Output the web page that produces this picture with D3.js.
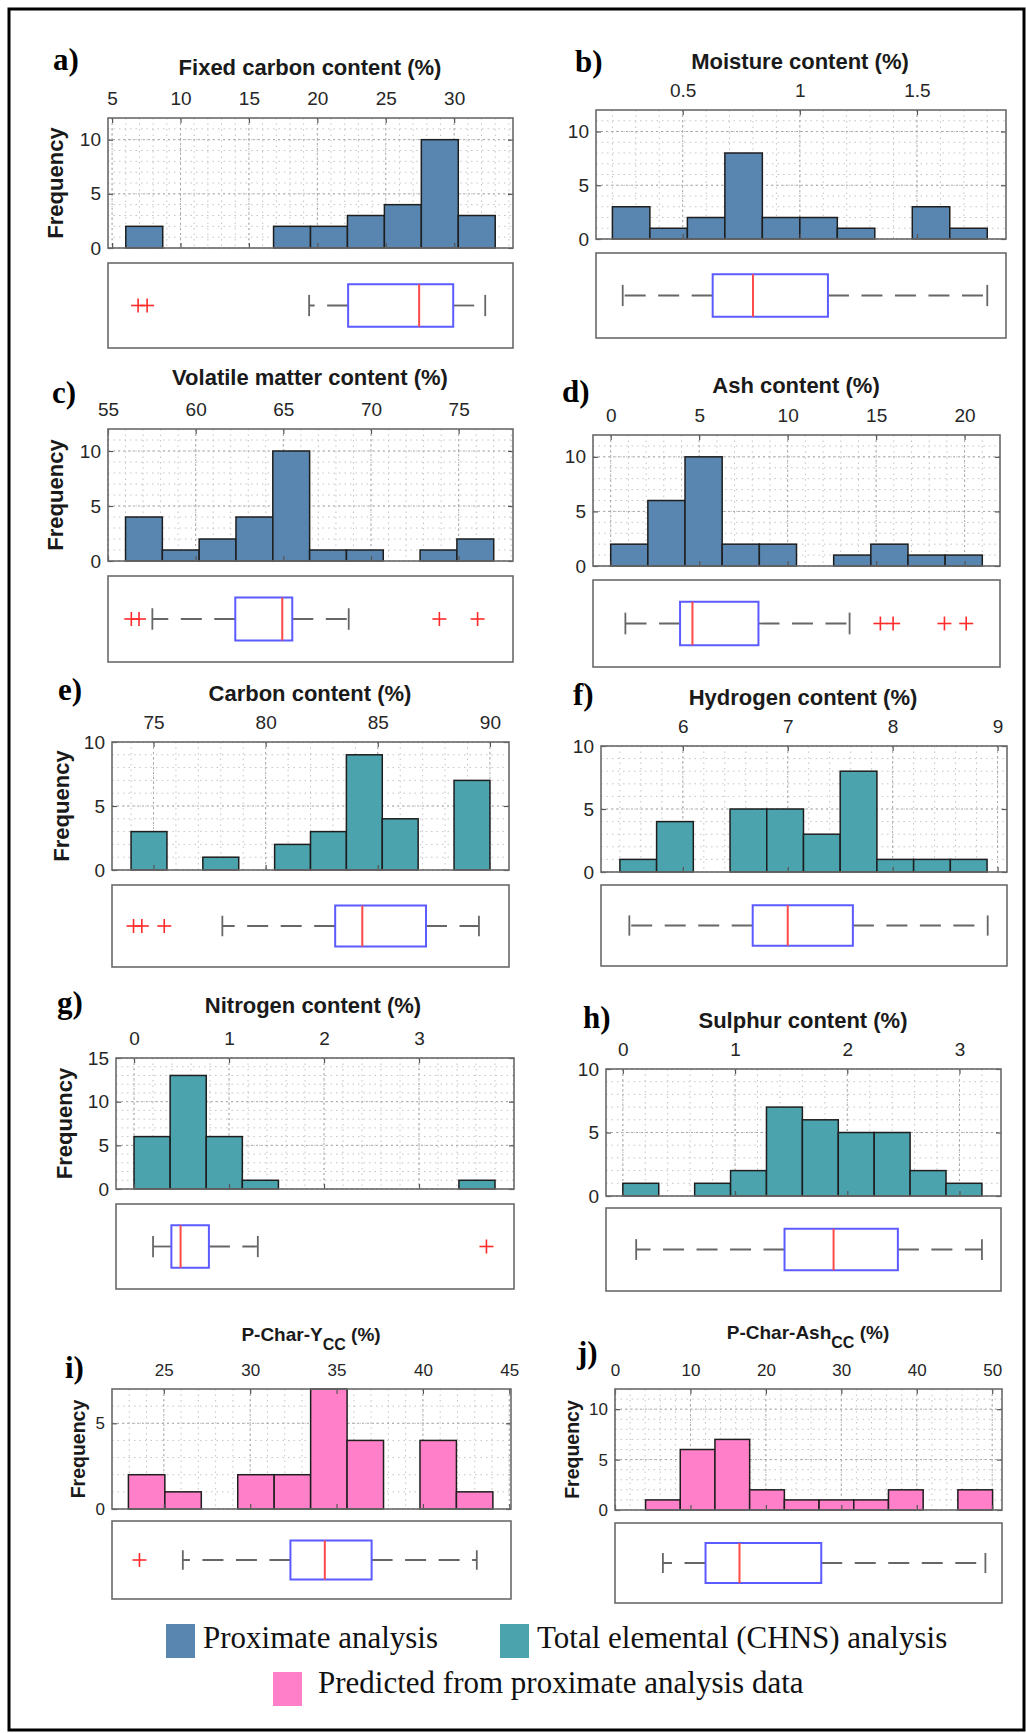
<!DOCTYPE html>
<html>
<head>
<meta charset="utf-8">
<script src="https://cdn.jsdelivr.net/npm/d3@7"></script>
<style>
  body { margin: 0; background: #fff; }
  svg { display: block; }
</style>
</head>
<body>
<div id="chart"></div>
<script>
// ---- data ----
const panelLetters = ["a)", "b)", "c)", "d)", "e)", "f)", "g)", "h)", "i)", "j)"];
const titles = [
  "Fixed carbon content (%)", "Moisture content (%)",
  "Volatile matter content (%)", "Ash content (%)",
  "Carbon content (%)", "Hydrogen content (%)",
  "Nitrogen content (%)", "Sulphur content (%)",
  ["P-Char-Y", "CC", " (%)"], ["P-Char-Ash", "CC", " (%)"]
];
const seriesOf = ["prox", "prox", "prox", "prox", "chns", "chns", "chns", "chns", "pred", "pred"];

const binStarts = [6.0, 0.2, 56.0, 0, 74.0, 5.4, 0, 0, 22.95, 4.05];
const binWidths = [2.7, 0.16, 2.1, 2.1, 1.6, 0.35, 0.38, 0.32, 2.11, 4.6];
const counts = [
  [2, 0, 0, 0, 2, 2, 3, 4, 10, 3],
  [3, 1, 2, 8, 2, 2, 1, 0, 3, 1],
  [4, 1, 2, 4, 10, 1, 1, 0, 1, 2],
  [2, 6, 10, 2, 2, 0, 1, 2, 1, 1],
  [3, 0, 1, 0, 2, 3, 9, 4, 0, 7],
  [1, 4, 0, 5, 5, 3, 8, 1, 1, 1],
  [6, 13, 6, 1, 0, 0, 0, 0, 0, 1],
  [1, 0, 1, 2, 7, 6, 5, 5, 2, 1],
  [2, 1, 0, 2, 2, 7, 4, 0, 4, 1],
  [1, 6, 7, 2, 1, 1, 1, 2, 0, 2]
];

const xDomains = [
  [4.7, 34.3], [0.13, 1.88], [55, 78.1], [-1, 22], [73.15, 90.85],
  [5.22, 9.09], [-0.19, 4.0], [-0.15, 3.37], [22, 45.1], [0, 51.3]
];
const xTicks = [
  [5, 10, 15, 20, 25, 30], [0.5, 1, 1.5], [55, 60, 65, 70, 75], [0, 5, 10, 15, 20],
  [75, 80, 85, 90], [6, 7, 8, 9], [0, 1, 2, 3], [0, 1, 2, 3],
  [25, 30, 35, 40, 45], [0, 10, 20, 30, 40, 50]
];
const xMinorSteps = [1, 0.1, 1, 1, 1, 0.2, 0.2, 0.2, 1, 2];
const yDomains = [[0, 12], [0, 12], [0, 12], [0, 12], [0, 10], [0, 10], [0, 15], [0, 10], [0, 7], [0, 12]];
const yTicks = [
  [0, 5, 10], [0, 5, 10], [0, 5, 10], [0, 5, 10], [0, 5, 10],
  [0, 5, 10], [0, 5, 10, 15], [0, 5, 10], [0, 5], [0, 5, 10]
];

// [lower whisker, q1, median, q3, upper whisker]
const boxStats = [
  [19.4, 22.25, 27.44, 29.93, 32.27],
  [0.244, 0.628, 0.80, 1.12, 1.80],
  [57.53, 62.26, 64.94, 65.51, 68.73],
  [0.83, 3.92, 4.62, 8.35, 13.5],
  [78.07, 83.10, 84.31, 87.15, 89.51],
  [5.49, 6.666, 7.0, 7.621, 8.906],
  [0.2, 0.393, 0.49, 0.788, 1.303],
  [0.119, 1.441, 1.878, 2.451, 3.2],
  [26.1, 32.33, 34.32, 37.03, 43.12],
  [6.35, 12.0, 16.5, 27.34, 49.1]
];
const outliers = [
  [6.9, 7.56], [], [56.33, 56.77, 73.9, 76.08], [15.24, 15.96, 18.86, 20.09],
  [74.11, 74.48, 75.48], [], [3.71], [], [23.59], []
];

const legendKeys = ["prox", "chns", "pred"];
const legendLabels = ["Proximate analysis", "Total elemental (CHNS) analysis", "Predicted from proximate analysis data"];

// ---- layout & style ----
const colors = { prox: "#5886b0", chns: "#4ba3ad", pred: "#ff80c9" };
const layout = [
  { hx0: 108, hx1: 513, hy0: 118, hy1: 248, by0: 263, by1: 348, lab: [53, 70], tt: [310, 75], fq: 55 },
  { hx0: 596, hx1: 1006, hy0: 110, hy1: 239, by0: 253, by1: 338, lab: [575, 72], tt: [800, 69], fq: null },
  { hx0: 108, hx1: 513, hy0: 429, hy1: 561, by0: 576, by1: 662, lab: [52, 403], tt: [310, 385], fq: 55 },
  { hx0: 593, hx1: 1000, hy0: 435, hy1: 566, by0: 580, by1: 667, lab: [562, 402], tt: [796, 393], fq: null },
  { hx0: 112, hx1: 509, hy0: 742, hy1: 870, by0: 885, by1: 967, lab: [58, 700], tt: [310, 701], fq: 61 },
  { hx0: 601, hx1: 1007, hy0: 746, hy1: 872, by0: 885, by1: 966, lab: [573, 705], tt: [803, 705], fq: null },
  { hx0: 116, hx1: 514, hy0: 1058, hy1: 1189, by0: 1204, by1: 1289, lab: [57, 1013], tt: [313, 1013], fq: 64 },
  { hx0: 606, hx1: 1001, hy0: 1069, hy1: 1196, by0: 1208, by1: 1291, lab: [583, 1028], tt: [803, 1028], fq: null },
  { hx0: 112, hx1: 511, hy0: 1389, hy1: 1509, by0: 1521, by1: 1599, lab: [65, 1378], tt: [311, 1341], fq: 78, small: true },
  { hx0: 615, hx1: 1002, hy0: 1389, hy1: 1510, by0: 1523, by1: 1603, lab: [577, 1363], tt: [808, 1339], fq: 572, small: true }
];
const sans = "'Liberation Sans', Arial, Helvetica, sans-serif";
const serif = "'Liberation Serif', 'Times New Roman', serif";

const svg = d3.select("#chart").append("svg")
  .attr("width", 1026)
  .attr("height", 1733);

svg.append("rect").attr("width", 1026).attr("height", 1733).attr("fill", "#fff");

function drawPanel(i) {
  const L = layout[i];
  const tickFont = L.small ? 17 : 19;
  const x = d3.scaleLinear().domain(xDomains[i]).range([L.hx0, L.hx1]);
  const y = d3.scaleLinear().domain(yDomains[i]).range([L.hy1, L.hy0]);
  const g = svg.append("g").attr("class", "panel");

  // minor grid (dotted)
  const [d0, d1] = xDomains[i];
  const st = xMinorSteps[i];
  const minorX = d3.range(Math.ceil(d0 / st - 1e-9), Math.floor(d1 / st + 1e-9) + 1).map(k => k * st);
  const minorY = d3.range(yDomains[i][0] + 1, yDomains[i][1], 1);

  g.append("g").selectAll("line").data(minorX).join("line")
    .attr("x1", d => x(d)).attr("x2", d => x(d))
    .attr("y1", L.hy0).attr("y2", L.hy1)
    .attr("stroke", "#c4c4c4").attr("stroke-width", 1).attr("stroke-dasharray", "1.5,4");
  g.append("g").selectAll("line").data(minorY).join("line")
    .attr("x1", L.hx0).attr("x2", L.hx1)
    .attr("y1", d => y(d)).attr("y2", d => y(d))
    .attr("stroke", "#c4c4c4").attr("stroke-width", 1).attr("stroke-dasharray", "1.5,4");
  g.append("g").selectAll("line").data(xTicks[i]).join("line")
    .attr("x1", d => x(d)).attr("x2", d => x(d))
    .attr("y1", L.hy0).attr("y2", L.hy1)
    .attr("stroke", "#a8a8a8").attr("stroke-width", 1).attr("stroke-dasharray", "2,3");
  g.append("g").selectAll("line").data(yTicks[i]).join("line")
    .attr("x1", L.hx0).attr("x2", L.hx1)
    .attr("y1", d => y(d)).attr("y2", d => y(d))
    .attr("stroke", "#a8a8a8").attr("stroke-width", 1).attr("stroke-dasharray", "2,3");

  // histogram bars
  const bins = counts[i].map((c, k) => ({
    x0: binStarts[i] + k * binWidths[i],
    x1: binStarts[i] + (k + 1) * binWidths[i],
    c
  })).filter(d => d.c > 0);

  g.append("g").selectAll("rect").data(bins).join("rect")
    .attr("x", d => x(d.x0))
    .attr("y", d => y(d.c))
    .attr("width", d => x(d.x1) - x(d.x0))
    .attr("height", d => y(0) - y(d.c))
    .attr("fill", colors[seriesOf[i]])
    .attr("stroke", "#1e1e1e")
    .attr("stroke-width", 1.5);

  // axes (ticks pointing inward, MATLAB style)
  const top = g.append("g").attr("transform", `translate(0,${L.hy0})`)
    .call(d3.axisTop(x).tickValues(xTicks[i]).tickSize(-5).tickPadding(13).tickFormat(d => String(d)));
  const bottom = g.append("g").attr("transform", `translate(0,${L.hy1})`)
    .call(d3.axisBottom(x).tickValues(xTicks[i]).tickSize(-5).tickFormat(""));
  const left = g.append("g").attr("transform", `translate(${L.hx0},0)`)
    .call(d3.axisLeft(y).tickValues(yTicks[i]).tickSize(-5).tickPadding(7).tickFormat(d => String(d)));
  const right = g.append("g").attr("transform", `translate(${L.hx1},0)`)
    .call(d3.axisRight(y).tickValues(yTicks[i]).tickSize(-5).tickFormat(""));

  [top, bottom, left, right].forEach(a => {
    a.select(".domain").remove();
    a.selectAll(".tick line").attr("stroke", "#555").attr("stroke-width", 1.2);
    a.selectAll(".tick text")
      .attr("font-family", sans)
      .attr("font-size", tickFont)
      .attr("fill", "#262626");
  });

  g.append("rect")
    .attr("x", L.hx0).attr("y", L.hy0)
    .attr("width", L.hx1 - L.hx0).attr("height", L.hy1 - L.hy0)
    .attr("fill", "none").attr("stroke", "#6a6a6a").attr("stroke-width", 1.6);

  // boxplot panel
  const [lo, q1, med, q3, hi] = boxStats[i];
  const cy = (L.by0 + L.by1) / 2;
  const bh = (L.by1 - L.by0) * 0.5;
  const capH = bh * 0.5;

  g.append("rect")
    .attr("x", L.hx0).attr("y", L.by0)
    .attr("width", L.hx1 - L.hx0).attr("height", L.by1 - L.by0)
    .attr("fill", "#fff").attr("stroke", "#6a6a6a").attr("stroke-width", 1.6);

  const whiskers = [[q1, lo], [q3, hi]];
  g.append("g").selectAll("line").data(whiskers).join("line")
    .attr("x1", d => x(d[0])).attr("x2", d => x(d[1]))
    .attr("y1", cy).attr("y2", cy)
    .attr("stroke", "#666").attr("stroke-width", 1.8)
    .attr("stroke-dasharray", "21,12.5");
  g.append("g").selectAll("line").data([lo, hi]).join("line")
    .attr("x1", d => x(d)).attr("x2", d => x(d))
    .attr("y1", cy - capH / 2).attr("y2", cy + capH / 2)
    .attr("stroke", "#666").attr("stroke-width", 1.8);

  g.append("rect")
    .attr("x", x(q1)).attr("y", cy - bh / 2)
    .attr("width", x(q3) - x(q1)).attr("height", bh)
    .attr("fill", "#fff").attr("stroke", "#5b5bff").attr("stroke-width", 2);
  g.append("line")
    .attr("x1", x(med)).attr("x2", x(med))
    .attr("y1", cy - bh / 2).attr("y2", cy + bh / 2)
    .attr("stroke", "#ff4a4a").attr("stroke-width", 2);

  const arm = 7;
  const plus = g.append("g").selectAll("g").data(outliers[i]).join("g")
    .attr("transform", d => `translate(${x(d)},${cy})`);
  plus.append("line").attr("x1", -arm).attr("x2", arm).attr("y1", 0).attr("y2", 0)
    .attr("stroke", "#ff2a2a").attr("stroke-width", 1.6);
  plus.append("line").attr("x1", 0).attr("x2", 0).attr("y1", -arm).attr("y2", arm)
    .attr("stroke", "#ff2a2a").attr("stroke-width", 1.6);

  // titles and labels
  const tt = g.append("text")
    .attr("x", L.tt[0]).attr("y", L.tt[1])
    .attr("text-anchor", "middle")
    .attr("font-family", sans)
    .attr("font-weight", "bold")
    .attr("font-size", L.small ? 19 : 22)
    .attr("fill", "#1a1a1a");
  if (Array.isArray(titles[i])) {
    tt.append("tspan").text(titles[i][0]);
    tt.append("tspan").attr("font-size", 16).attr("dy", 9).text(titles[i][1]);
    tt.append("tspan").attr("dy", -9).text(titles[i][2]);
  } else {
    tt.text(titles[i]);
  }

  g.append("text")
    .attr("x", L.lab[0]).attr("y", L.lab[1])
    .attr("font-family", serif)
    .attr("font-weight", "bold")
    .attr("font-size", 31)
    .attr("fill", "#000")
    .text(panelLetters[i]);

  if (L.fq !== null) {
    const fy = (L.hy0 + L.hy1) / 2;
    g.append("text")
      .attr("transform", `translate(${L.fq},${fy}) rotate(-90)`)
      .attr("text-anchor", "middle")
      .attr("dy", "0.36em")
      .attr("font-family", sans)
      .attr("font-weight", "bold")
      .attr("font-size", L.small ? 19.5 : 22)
      .attr("fill", "#1a1a1a")
      .text("Frequency");
  }
}

d3.range(10).forEach(drawPanel);

// legend
const legendPos = [
  { x: 166, y: 1624, tx: 203, ty: 1648 },
  { x: 500, y: 1624, tx: 537, ty: 1648 },
  { x: 273, y: 1672, tx: 318, ty: 1693 }
];
const legend = svg.append("g").attr("class", "legend");
legendKeys.forEach((k, i) => {
  const p = legendPos[i];
  legend.append("rect")
    .attr("x", p.x).attr("y", p.y).attr("width", 29).attr("height", 34)
    .attr("fill", colors[k]);
  legend.append("text")
    .attr("x", p.tx).attr("y", p.ty)
    .attr("font-family", serif)
    .attr("font-size", 31)
    .attr("fill", "#111")
    .text(legendLabels[i]);
});

// outer frame
svg.append("rect")
  .attr("x", 9).attr("y", 9)
  .attr("width", 1015).attr("height", 1721)
  .attr("fill", "none").attr("stroke", "#000").attr("stroke-width", 3);
</script>
</body>
</html>
